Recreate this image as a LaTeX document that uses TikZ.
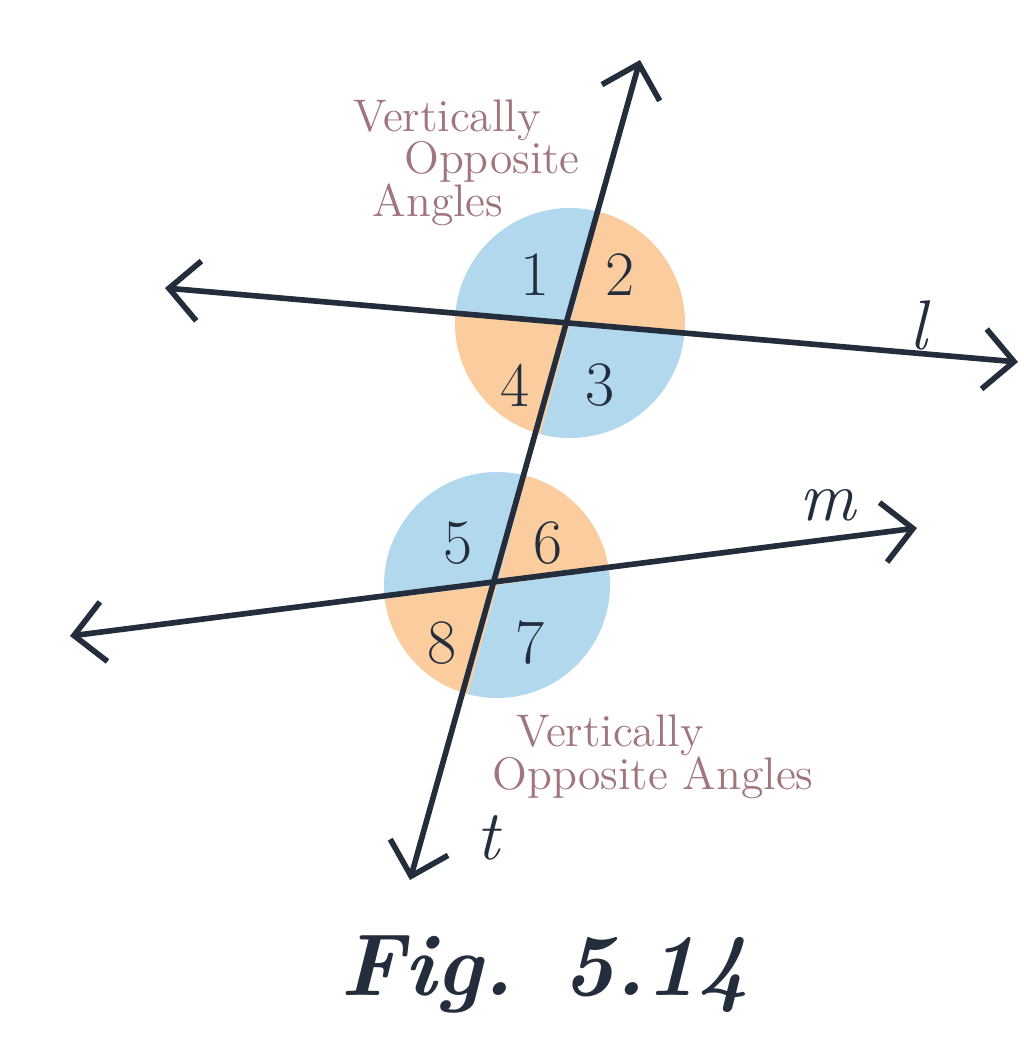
\documentclass[tikz,border=0pt]{standalone}
\usetikzlibrary{arrows.meta}
\definecolor{ink}{RGB}{35,45,60}
\definecolor{skyb}{RGB}{178,216,238}
\definecolor{peach}{RGB}{250,204,158}
\definecolor{rosy}{RGB}{160,118,124}
\begin{document}
\begin{tikzpicture}
		\tikzstyle{ray}=[ink,line width=1.6pt,{Straight Barb[length=3mm,width=6mm,line width=1.6pt]}-{Straight Barb[length=3mm,width=6mm,line width=1.6pt]}]
		\tikzstyle{num}=[ink,font=\fontsize{18}{20}\selectfont]
		\tikzstyle{lname}=[ink,font=\fontsize{20}{22}\selectfont\itshape]
		\tikzstyle{vnote}=[rosy,font=\fontsize{13}{15}\selectfont,inner sep=0pt]
		\useasboundingbox (0,0) rectangle (10.24,10.38);
		
		\coordinate (P) at (5.70,7.15);
		\coordinate (Q) at (4.97,4.53);
		\coordinate (tt) at (6.40,9.78);
		\coordinate (tb) at (4.10,1.58);
		\coordinate (ll) at (1.65,7.50);
		\coordinate (lr) at (10.18,6.76);
		\coordinate (ml) at (0.70,4.02);
		\coordinate (mr) at (9.17,5.10);
		
		%%% upper circle
		\fill[skyb] (P) -- ++(75:1.15) arc[start angle=75,end angle=175,radius=1.15] -- cycle;
		\fill[peach] (P) -- ++(-5:1.15) arc[start angle=-5,end angle=75,radius=1.15] -- cycle;
		\fill[skyb] (P) -- ++(255:1.15) arc[start angle=255,end angle=355,radius=1.15] -- cycle;
		\fill[peach] (P) -- ++(175:1.15) arc[start angle=175,end angle=255,radius=1.15] -- cycle;
		
		%%% lower circle
		\fill[skyb] (Q) -- ++(75:1.13) arc[start angle=75,end angle=187,radius=1.13] -- cycle;
		\fill[peach] (Q) -- ++(8:1.13) arc[start angle=8,end angle=75,radius=1.13] -- cycle;
		\fill[skyb] (Q) -- ++(255:1.13) arc[start angle=255,end angle=368,radius=1.13] -- cycle;
		\fill[peach] (Q) -- ++(187:1.13) arc[start angle=187,end angle=255,radius=1.13] -- cycle;
		
		%%% lines
		\draw[ray] (tb) -- (tt);
		\draw[ray] (ll) -- (lr);
		\draw[ray] (ml) -- (mr);
		
		\node[num] (a1) at (5.35,7.63) {1};
		\node[num] (a2) at (6.20,7.63) {2};
		\node[num] (a3) at (6.00,6.53) {3};
		\node[num] (a4) at (5.15,6.53) {4};
		\node[num] (a5) at (4.58,4.95) {5};
		\node[num] (a6) at (5.48,4.95) {6};
		\node[num] (a7) at (5.30,3.95) {7};
		\node[num] (a8) at (4.42,3.95) {8};
		
		\node[lname] (nl) at (9.18,7.13) {l};
		\node[lname] (nm) at (8.28,5.33) {m};
		\node[lname] (nt) at (4.88,2.00) {t};
		
		%%% notes
		\node[vnote] (u1) at (4.47,9.18) {Vertically};
		\node[vnote] (u2) at (4.92,8.76) {Opposite};
		\node[vnote] (u3) at (4.38,8.33) {Angles};
		\node[vnote] (d1) at (6.10,3.03) {Vertically};
		\node[vnote] (d2) at (6.53,2.60) {Opposite Angles};
		
		\node[ink,font=\fontsize{25}{27}\selectfont\bfseries\itshape] (fig) at (5.45,0.63) {Fig. 5.14};
\end{tikzpicture}
\end{document}
